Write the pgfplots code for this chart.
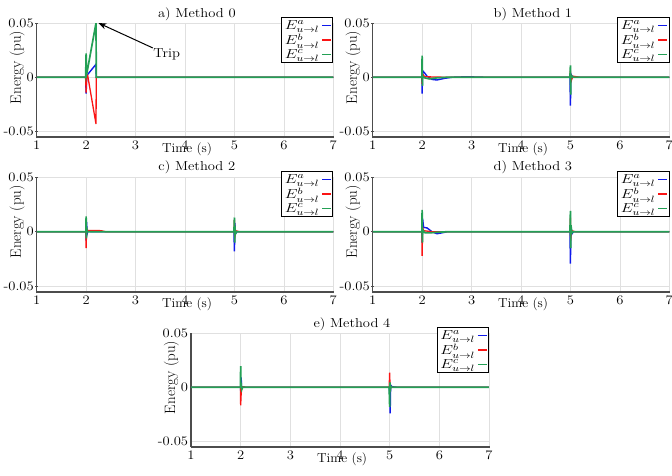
\RequirePackage{fix-cm}
\documentclass[border=0pt]{standalone}
\usepackage{graphicx}
\usepackage{pgfplots}
\pgfplotsset{compat=1.18}
\usetikzlibrary{arrows.meta}
\definecolor{cb}{RGB}{15,25,235}
\definecolor{cr}{RGB}{250,20,20}
\definecolor{cg}{RGB}{35,160,85}
\newcommand{\Tk}[1]{\fontsize{13}{15}\selectfont\scalebox{1.12}[1]{#1}}
\newcommand{\Tt}[1]{\fontsize{13}{15}\selectfont\scalebox{1.12}[1]{#1}}
\newcommand{\Tx}[1]{\fontsize{13}{15}\selectfont\scalebox{1.04}[1]{#1}}
\newcommand{\Le}[1]{\fontsize{13}{15}\selectfont\scalebox{1.25}[1]{$E^{#1}_{u\rightarrow l}$}}
\newcommand{\Deco}[1]{%
  \node[anchor=base, inner sep=0pt] at ([yshift=6pt]axis description cs:0.54,1) {\Tt{#1}};
  \node[anchor=base, inner sep=0pt] at ([yshift=-15pt]axis description cs:0.507,0) {\Tx{Time (s)}};
  \node[rotate=90, anchor=center, inner sep=0pt] at (axis description cs:-0.066,0.61) {\fontsize{15}{17}\selectfont Energy (pu)};
}
\pgfplotsset{
  sa/.style={cb, line width=1.4pt},
  sb/.style={cr, line width=1.3pt},
  sc/.style={cg, line width=1.7pt},
  panel/.style={
    scale only axis, width=296.6pt, height=114pt,
    xmin=1, xmax=7, ymin=-0.055, ymax=0.05, enlargelimits=false,
    scaled y ticks=false, scaled x ticks=false,
    clip mode=individual,
    axis x line=bottom, axis y line=left,
    axis line style={-, draw=black!70, line width=1.1pt},
    xtick={1,2,3,4,5,6,7}, xticklabels={\Tk{1},\Tk{2},\Tk{3},\Tk{4},\Tk{5},\Tk{6},\Tk{7}},
    ytick={-0.05,0,0.05}, yticklabels={\Tk{-0.05},\Tk{0},\Tk{0.05}},
    major tick length=2.5pt, tick style={black!70, line width=0.8pt},
    grid=major, grid style={black!12, line width=0.6pt},
    xticklabel style={anchor=base, yshift=-11pt},
    yticklabel style={anchor=east, inner sep=0pt, xshift=-1.5pt},
    legend style={at={(axis description cs:1,1)}, anchor=north east, yshift=6pt, draw=black, line width=0.8pt, fill=white, inner sep=1pt, row sep=-1pt},
    legend plot pos=right,
    legend image code/.code={\draw[#1, line width=1.6pt] (0pt,0pt) -- (9pt,0pt);},
  }
}
\begin{document}
\begin{tikzpicture}
\path[use as bounding box] (0,0) rectangle (672pt,475pt);
% a) Method 0
\begin{axis}[panel, at={(36.7pt,338pt)}, anchor=south west]
\addplot[sa] coordinates {(1,0)(1.99,0)(2.0,-0.015)(2.01,-0.002)(2.02,0.002)(2.2,0.012)(2.205,0)(7,0)};
\addplot[sb] coordinates {(1,0)(1.99,0)(2.0,-0.014)(2.01,0.002)(2.03,0.002)(2.2,-0.043)(2.205,0)(7,0)};
\addplot[sc] coordinates {(1,0)(1.99,0)(2.0,0.022)(2.005,0.002)(2.02,0.005)(2.2,0.05)(2.205,0)(7,0)};
\legend{\Le{a},\Le{b},\Le{c}}
\draw[-{Stealth[length=8pt,width=6pt]}, line width=1pt] (axis cs:3.35,0.027) -- (axis cs:2.25,0.05);
\node at (axis cs:3.63,0.021) {\Tt{Trip}};
\Deco{a) Method 0}
\end{axis}
% b) Method 1
\begin{axis}[panel, at={(372.7pt,338pt)}, anchor=south west]
\addplot[sa] coordinates {(1,0)(1.995,0)(2.0,-0.015)(2.01,0.006)(2.05,0.004)(2.1,0.001)(2.2,-0.002)(2.3,-0.0025)(2.45,-0.001)(2.6,0)(2.9,0.0005)(3.3,0)(4.99,0)(5.0,-0.026)(5.01,0.003)(5.03,0.001)(5.1,0)(7,0)};
\addplot[sb] coordinates {(1,0)(1.995,0)(2.0,-0.006)(2.01,0.003)(2.05,0.0005)(2.5,0)(4.99,0)(5.0,0.006)(5.01,-0.004)(5.05,0.001)(5.2,0)(7,0)};
\addplot[sc] coordinates {(1,0)(1.995,0)(2.0,0.02)(2.005,-0.008)(2.01,0.001)(2.05,-0.0005)(2.15,-0.0015)(2.3,-0.0005)(2.5,0)(4.99,0)(5.0,0.011)(5.005,-0.016)(5.01,0.002)(5.05,0)(7,0)};
\legend{\Le{a},\Le{b},\Le{c}}
\Deco{b) Method 1}
\end{axis}
% c) Method 2
\begin{axis}[panel, height=115pt, at={(36.7pt,183pt)}, anchor=south west]
\addplot[sa] coordinates {(1,0)(1.995,0)(2.0,-0.008)(2.01,0.009)(2.02,-0.002)(2.04,0.001)(2.1,0)(4.99,0)(5.0,-0.018)(5.01,0.008)(5.02,-0.002)(5.05,0)(7,0)};
\addplot[sb] coordinates {(1,0)(1.995,0)(2.0,-0.015)(2.01,0.003)(2.02,0.001)(2.1,0.0012)(2.3,0.001)(2.4,0)(4.99,0)(5.0,0.011)(5.005,-0.006)(5.02,0.001)(5.1,0)(7,0)};
\addplot[sc] coordinates {(1,0)(1.995,0)(2.0,0.014)(2.005,-0.006)(2.01,0.004)(2.02,0)(4.99,0)(5.0,0.013)(5.005,-0.01)(5.01,0.005)(5.02,-0.002)(5.04,0)(7,0)};
\legend{\Le{a},\Le{b},\Le{c}}
\Deco{c) Method 2}
\end{axis}
% d) Method 3
\begin{axis}[panel, height=115pt, at={(372.7pt,183pt)}, anchor=south west]
\addplot[sa] coordinates {(1,0)(1.995,0)(2.0,-0.01)(2.01,0.012)(2.03,0.004)(2.1,0.0035)(2.2,0)(2.3,-0.0018)(2.4,-0.001)(2.5,0)(4.99,0)(5.0,-0.029)(5.01,0.005)(5.03,-0.002)(5.06,0)(7,0)};
\addplot[sb] coordinates {(1,0)(1.995,0)(2.0,-0.022)(2.01,0.004)(2.03,0.001)(2.2,0)(4.99,0)(5.0,0.013)(5.005,-0.008)(5.02,0.001)(5.1,0)(7,0)};
\addplot[sc] coordinates {(1,0)(1.995,0)(2.0,0.02)(2.005,-0.01)(2.01,0.002)(2.05,-0.0008)(2.15,-0.001)(2.3,-0.0005)(2.5,0)(4.99,0)(5.0,0.019)(5.005,-0.015)(5.01,0.006)(5.03,-0.001)(5.06,0)(7,0)};
\legend{\Le{a},\Le{b},\Le{c}}
\Deco{d) Method 3}
\end{axis}
% e) Method 4
\begin{axis}[panel, width=298pt, at={(191pt,28pt)}, anchor=south west]
\addplot[sa] coordinates {(1,0)(1.995,0)(2.0,-0.003)(2.01,0.009)(2.02,-0.001)(2.04,0.0005)(2.1,0)(4.99,0)(5.0,-0.005)(5.01,-0.024)(5.02,0.002)(5.05,0.0005)(5.15,0)(7,0)};
\addplot[sb] coordinates {(1,0)(1.995,0)(2.0,-0.0166)(2.01,-0.006)(2.02,-0.002)(2.04,0.0005)(2.1,0)(4.99,0)(5.0,0.0136)(5.01,-0.004)(5.02,0.001)(5.05,0)(7,0)};
\addplot[sc] coordinates {(1,0)(1.995,0)(2.0,0.0196)(2.005,0.002)(2.01,0.004)(2.02,-0.002)(2.04,0)(4.99,0)(5.0,-0.018)(5.005,0.0045)(5.01,-0.004)(5.02,0.001)(5.04,0)(7,0)};
\legend{\Le{a},\Le{b},\Le{c}}
\Deco{e) Method 4}
\end{axis}
\end{tikzpicture}
\end{document}
